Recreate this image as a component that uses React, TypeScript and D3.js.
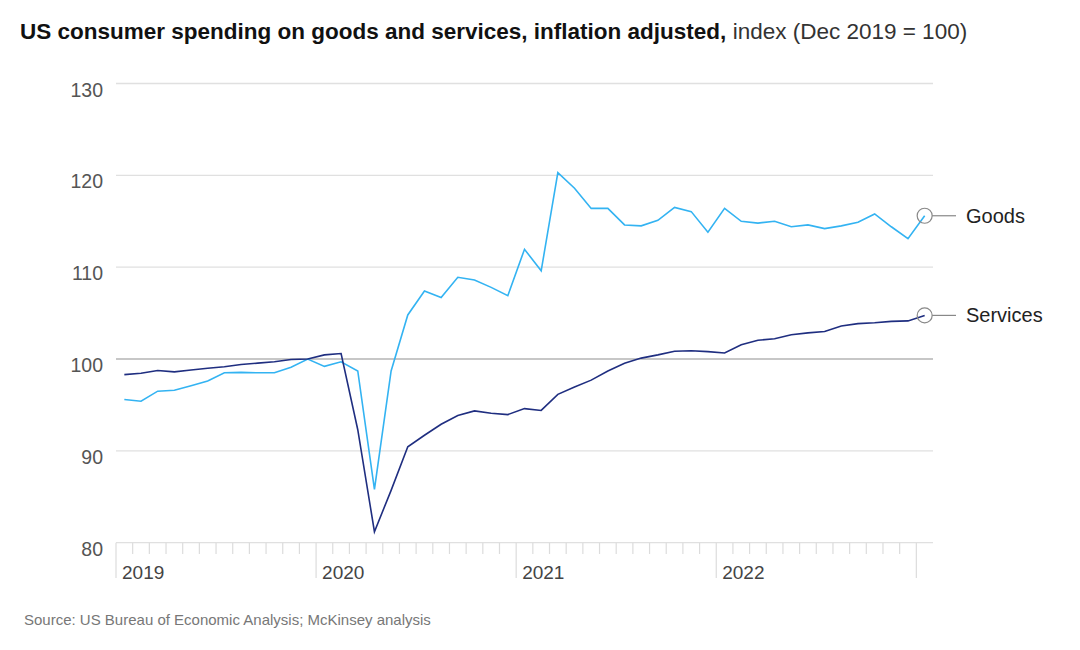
import React from "react";
import * as d3 from "d3";

// Monthly values, Jan 2019 – Jan 2023
const months: string[] = [
  "2019-01","2019-02","2019-03","2019-04","2019-05","2019-06","2019-07","2019-08","2019-09","2019-10","2019-11","2019-12",
  "2020-01","2020-02","2020-03","2020-04","2020-05","2020-06","2020-07","2020-08","2020-09","2020-10","2020-11","2020-12",
  "2021-01","2021-02","2021-03","2021-04","2021-05","2021-06","2021-07","2021-08","2021-09","2021-10","2021-11","2021-12",
  "2022-01","2022-02","2022-03","2022-04","2022-05","2022-06","2022-07","2022-08","2022-09","2022-10","2022-11","2022-12",
  "2023-01",
];

const goods: number[] = [
  95.6, 95.4, 96.5, 96.6, 97.1, 97.6, 98.5, 98.55, 98.5, 98.5, 99.1, 100.0,
  99.2, 99.7, 98.7, 85.8, 98.7, 104.8, 107.4, 106.7, 108.9, 108.6, 107.8, 106.9,
  111.95, 109.6, 120.3, 118.6, 116.4, 116.4, 114.6, 114.5, 115.1, 116.5, 116.05, 113.8,
  116.4, 115.0, 114.8, 115.0, 114.4, 114.6, 114.2, 114.5, 114.9, 115.8, 114.4, 113.1,
  115.6,
];

const services: number[] = [
  98.3, 98.45, 98.75, 98.6, 98.8, 99.0, 99.15, 99.4, 99.55, 99.7, 99.95, 100.0,
  100.45, 100.6, 92.3, 81.2, 85.7, 90.45, 91.7, 92.9, 93.85, 94.35, 94.1, 93.95,
  94.6, 94.4, 96.15, 96.95, 97.7, 98.7, 99.55, 100.1, 100.45, 100.85, 100.9, 100.8,
  100.65, 101.55, 102.05, 102.2, 102.65, 102.85, 103.0, 103.6, 103.85, 103.95, 104.1, 104.15,
  104.75,
];

const yTicks: number[] = [80, 90, 100, 110, 120, 130];
const yearLabels: string[] = ["2019", "2020", "2021", "2022"];
const seriesNames: string[] = ["Goods", "Services"];

const W = 1080;
const H = 650;
const left = 116;
const right = 933;
const top = 83.5;
const bottom = 542.7;

const GOODS = "#33b3f2";
const SERVICES = "#1f2e80";
const FONT = "'Liberation Sans', Arial, Helvetica, sans-serif";

export default function App() {
  const x = d3.scaleLinear().domain([0, months.length]).range([left, right]);
  const y = d3.scaleLinear().domain([80, 130]).range([bottom, top]);

  const line = d3
    .line<number>()
    .x((_, i) => x(i + 0.5))
    .y((d) => y(d));

  const tickIdx = d3.range(0, months.length); // month boundaries 0..48
  const lastI = months.length - 1;
  const series = [
    { name: seriesNames[0], data: goods, color: GOODS },
    { name: seriesNames[1], data: services, color: SERVICES },
  ];

  return (
    <svg
      width={W}
      height={H}
      viewBox={`0 0 ${W} ${H}`}
      style={{ position: "absolute", left: 0, top: 0, background: "#fff" }}
    >
      <text x={20} y={39} fontFamily={FONT} fontSize={22.5} fill="#111">
        <tspan fontWeight={700}>US consumer spending on goods and services, inflation adjusted,</tspan>
        <tspan fill="#333"> index (Dec 2019 = 100)</tspan>
      </text>

      {/* gridlines */}
      {yTicks.map((t) => (
        <g key={t}>
          <line
            x1={left}
            x2={right}
            y1={y(t)}
            y2={y(t)}
            stroke={t === 100 ? "#b4b4b4" : "#e0e0e0"}
            strokeWidth={1.3}
          />
          <text
            x={103}
            y={y(t) + 13}
            textAnchor="end"
            fontFamily={FONT}
            fontSize={19.5}
            fill="#555"
          >
            {t}
          </text>
        </g>
      ))}

      {/* x ticks */}
      {tickIdx.map((i) => (
        <line
          key={i}
          x1={x(i)}
          x2={x(i)}
          y1={bottom}
          y2={i % 12 === 0 ? 578 : 554}
          stroke="#dcdcdc"
          strokeWidth={1.2}
        />
      ))}
      {yearLabels.map((lab, k) => (
        <text
          key={lab}
          x={x(k * 12) + 6}
          y={579}
          fontFamily={FONT}
          fontSize={19}
          fill="#444"
        >
          {lab}
        </text>
      ))}

      {/* lines */}
      {series.map((s) => (
        <path
          key={s.name}
          d={line(s.data) || ""}
          fill="none"
          stroke={s.color}
          strokeWidth={1.6}
          strokeLinejoin="miter"
        />
      ))}

      {/* end labels */}
      {series.map((s) => {
        const cx = x(lastI + 0.5);
        const cy = y(s.data[lastI]);
        return (
          <g key={s.name + "lab"}>
            <circle cx={cx} cy={cy} r={7.5} fill="none" stroke="#888" strokeWidth={1.2} />
            <line x1={cx + 7.5} x2={956} y1={cy} y2={cy} stroke="#888" strokeWidth={1.2} />
            <text x={966} y={cy} dy="0.34em" fontFamily={FONT} fontSize={20} fill="#222">
              {s.name}
            </text>
          </g>
        );
      })}

      <text x={24} y={625} fontFamily={FONT} fontSize={15} fill="#777">
        Source: US Bureau of Economic Analysis; McKinsey analysis
      </text>
    </svg>
  );
}
